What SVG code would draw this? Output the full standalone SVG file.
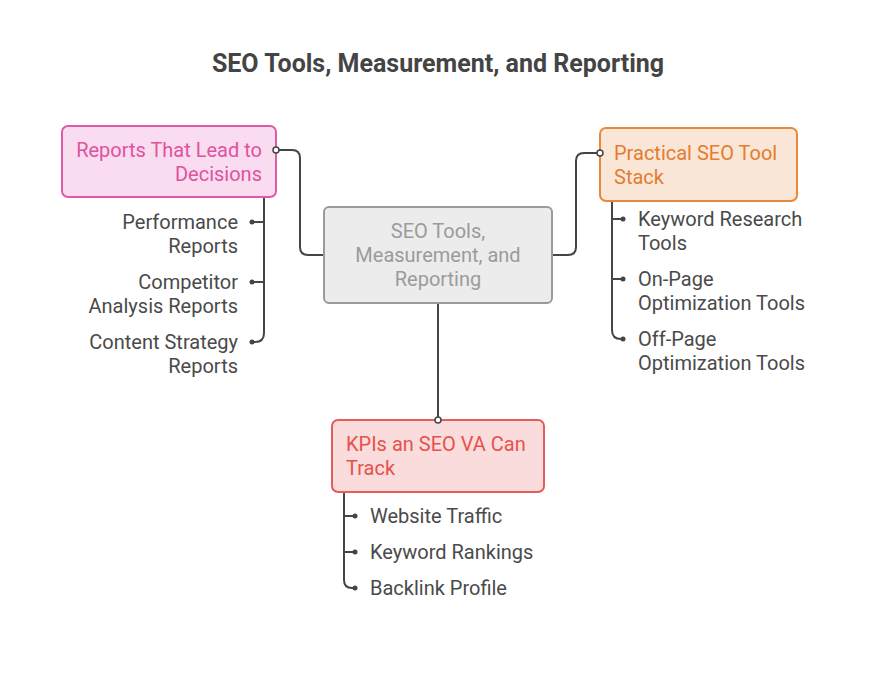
<svg xmlns="http://www.w3.org/2000/svg" width="876" height="678" viewBox="0 0 876 678">
<style>
text{font-family:Roboto,"Liberation Sans",sans-serif;font-size:20px}
.title{font-size:25px;font-weight:bold;fill:#444}
.leaf{fill:#4a4a4a}
.ln{fill:none;stroke:#454545;stroke-width:2}
.dot{fill:#454545}
.hub{fill:#fff;stroke:#454545;stroke-width:1.5}
</style>
<rect width="876" height="678" fill="#fff"/>
<text class="title" x="438" y="72" text-anchor="middle">SEO Tools, Measurement, and Reporting</text>
<g id="connectors">
<path class="ln" d="M276,150 H292 Q300,150 300,158 V247 Q300,255 308,255 H324"/>
<path class="ln" d="M552,255 H568 Q576,255 576,247 V161 Q576,153 584,153 H600"/>
<path class="ln" d="M438,303 V420"/>
<path class="ln" d="M264,198 V333 Q264,342 255,342 H252 M264,222 H252 M264,282 H252"/>
<path class="ln" d="M612,201 V330 Q612,339 621,339 H623 M612,219 H623 M612,279 H623"/>
<path class="ln" d="M344,492 V580 Q344,588 352,588 H355 M344,516 H355 M344,552 H355"/>
<circle class="dot" cx="252" cy="222" r="2.5"/>
<circle class="dot" cx="252" cy="282" r="2.5"/>
<circle class="dot" cx="252" cy="342" r="2.5"/>
<circle class="dot" cx="623" cy="219" r="2.5"/>
<circle class="dot" cx="623" cy="279" r="2.5"/>
<circle class="dot" cx="623" cy="339" r="2.5"/>
<circle class="dot" cx="355" cy="516" r="2.5"/>
<circle class="dot" cx="355" cy="552" r="2.5"/>
<circle class="dot" cx="355" cy="588" r="2.5"/>
</g>
<g id="center">
<rect x="324" y="207" width="228" height="96" rx="5" fill="#ececec" stroke="#9a9a9a" stroke-width="2"/>
<text x="438" y="238" text-anchor="middle" fill="#9b9b9b">SEO Tools,</text>
<text x="438" y="262" text-anchor="middle" fill="#9b9b9b">Measurement, and</text>
<text x="438" y="286" text-anchor="middle" fill="#9b9b9b">Reporting</text>
</g>
<g id="reports">
<rect x="62" y="126" width="214" height="71" rx="6" fill="#f9dcef" stroke="#e05aab" stroke-width="2"/>
<text x="262" y="157" text-anchor="end" fill="#e0529f">Reports That Lead to</text>
<text x="262" y="181" text-anchor="end" fill="#e0529f">Decisions</text>
<circle class="hub" cx="276" cy="150" r="3"/>
</g>
<g id="reports-leaves" class="leaf">
<text x="238" y="229" text-anchor="end" class="leaf">Performance</text>
<text x="238" y="253" text-anchor="end" class="leaf">Reports</text>
<text x="238" y="289" text-anchor="end" class="leaf">Competitor</text>
<text x="238" y="313" text-anchor="end" class="leaf">Analysis Reports</text>
<text x="238" y="349" text-anchor="end" class="leaf">Content Strategy</text>
<text x="238" y="373" text-anchor="end" class="leaf">Reports</text>
</g>
<g id="tools">
<rect x="600" y="128" width="197" height="73" rx="6" fill="#fae6d7" stroke="#e8883a" stroke-width="2"/>
<text x="614" y="160" fill="#e27d2f">Practical SEO Tool</text>
<text x="614" y="184" fill="#e27d2f">Stack</text>
<circle class="hub" cx="600" cy="153" r="3"/>
</g>
<g id="tools-leaves">
<text x="638" y="226" class="leaf">Keyword Research</text>
<text x="638" y="250" class="leaf">Tools</text>
<text x="638" y="286" class="leaf">On-Page</text>
<text x="638" y="310" class="leaf">Optimization Tools</text>
<text x="638" y="346" class="leaf">Off-Page</text>
<text x="638" y="370" class="leaf">Optimization Tools</text>
</g>
<g id="kpis">
<rect x="332" y="420" width="212" height="72" rx="6" fill="#fadcdc" stroke="#e85b5b" stroke-width="2"/>
<text x="346" y="451" fill="#e5524b">KPIs an SEO VA Can</text>
<text x="346" y="475" fill="#e5524b">Track</text>
<circle class="hub" cx="438" cy="420" r="3"/>
</g>
<g id="kpis-leaves">
<text x="370" y="523" class="leaf">Website Traffic</text>
<text x="370" y="559" class="leaf">Keyword Rankings</text>
<text x="370" y="595" class="leaf">Backlink Profile</text>
</g>
</svg>
